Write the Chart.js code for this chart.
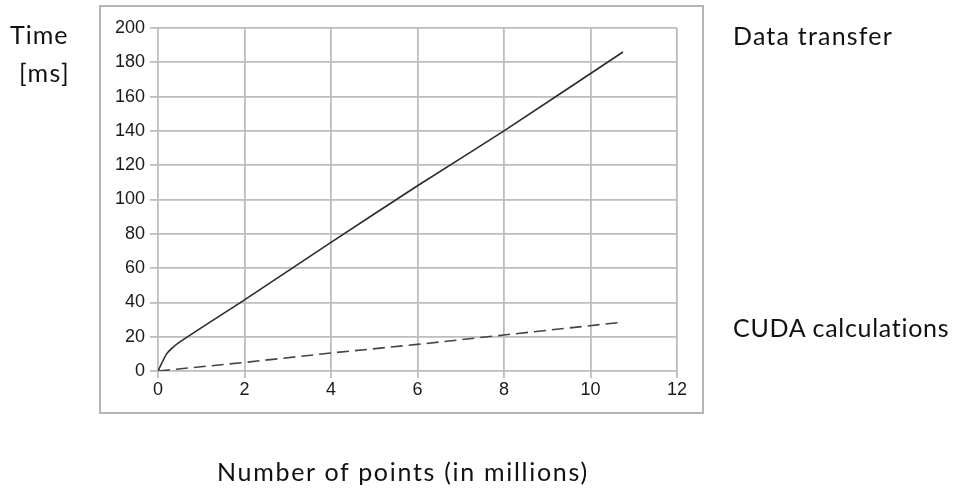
<!DOCTYPE html>
<html>
<head>
<meta charset="utf-8">
<script src="https://cdn.jsdelivr.net/npm/chart.js@4.4.1/dist/chart.umd.min.js"></script>
<style>
    html, body { margin: 0; padding: 0; background: #fff; }
    #wrap { position: relative; width: 957px; height: 490px; overflow: hidden; }
    #wrap canvas { position: absolute; left: 0; top: 0; }
    .lbl {
        position: absolute;
        font-family: Lato, "Open Sans", sans-serif;
        font-size: 25px;
        color: #111;
        white-space: nowrap;
        line-height: 1;
    }
</style>
</head>
<body>
<div id="wrap">
    <canvas id="chart" width="957" height="490"></canvas>
    <div class="lbl" style="left:10px; top:22px; letter-spacing:1px;">Time</div>
    <div class="lbl" style="left:19px; top:60px; letter-spacing:1.5px;">[ms]</div>
    <div class="lbl" style="left:733px; top:23px; letter-spacing:1.2px;">Data transfer</div>
    <div class="lbl" style="left:733px; top:315px; letter-spacing:0.7px;">CUDA calculations</div>
    <div class="lbl" style="left:217px; top:459px; letter-spacing:1.7px;">Number of points (in millions)</div>
</div>
<script>
// Timings vs. input size (millions of points)
const transferX = [0, 0.2, 0.45, 2, 4, 6, 8, 10.75];
const transferMs = [0, 10, 16, 41.5, 75, 108, 140, 186];
const cudaX = [0, 2, 4, 6, 8, 10.75];
const cudaMs = [0, 5, 10.5, 15.5, 21, 28.5];
const xTicks = [0, 2, 4, 6, 8, 10, 12];
const yTicks = [0, 20, 40, 60, 80, 100, 120, 140, 160, 180, 200];

const toPoints = (xs, ys) => xs.map((x, i) => ({ x: x, y: ys[i] }));

const GRID = "#bdbdbd";
const TICK_FONT = { family: "'Liberation Sans', Arial, sans-serif", size: 18 };

// light frame around the whole plot block
const frame = {
    id: "frame",
    beforeDraw(chart) {
        const ctx = chart.ctx;
        ctx.save();
        ctx.strokeStyle = "#b5b5b5";
        ctx.lineWidth = 2;
        ctx.strokeRect(100, 6, 603, 407);
        ctx.restore();
    },
};

new Chart(document.getElementById("chart"), {
    type: "line",
    data: {
        datasets: [
            {
                label: "Data transfer",
                data: toPoints(transferX, transferMs),
                borderColor: "#2b2b2b",
                borderWidth: 1.6,
                pointRadius: 0,
                tension: 0.2,
                fill: false,
            },
            {
                label: "CUDA calculations",
                data: toPoints(cudaX, cudaMs),
                borderColor: "#444",
                borderWidth: 1.6,
                borderDash: [12, 6],
                pointRadius: 0,
                tension: 0,
                fill: false,
            },
        ],
    },
    options: {
        responsive: false,
        animation: false,
        parsing: false,
        layout: { padding: { left: 100, top: 28, right: 280, bottom: 0 } },
        plugins: {
            legend: { display: false },
            tooltip: { enabled: false },
        },
        scales: {
            x: {
                type: "linear",
                min: 0,
                max: 12,
                afterBuildTicks: (s) => { s.ticks = xTicks.map((v) => ({ value: v })); },
                afterFit: (s) => { s.height = 119; },
                ticks: { color: "#1a1a1a", font: TICK_FONT, padding: 1, maxRotation: 0 },
                grid: { color: GRID, lineWidth: 1.8, tickLength: 7, tickColor: GRID },
                border: { display: false },
            },
            y: {
                min: 0,
                max: 200,
                afterBuildTicks: (s) => { s.ticks = yTicks.map((v) => ({ value: v })); },
                afterFit: (s) => { s.width = 58; },
                ticks: { color: "#1a1a1a", font: TICK_FONT, padding: 5 },
                grid: { color: GRID, lineWidth: 1.8, tickLength: 8, tickColor: GRID },
                border: { display: false },
            },
        },
    },
    plugins: [frame],
});
</script>
</body>
</html>
